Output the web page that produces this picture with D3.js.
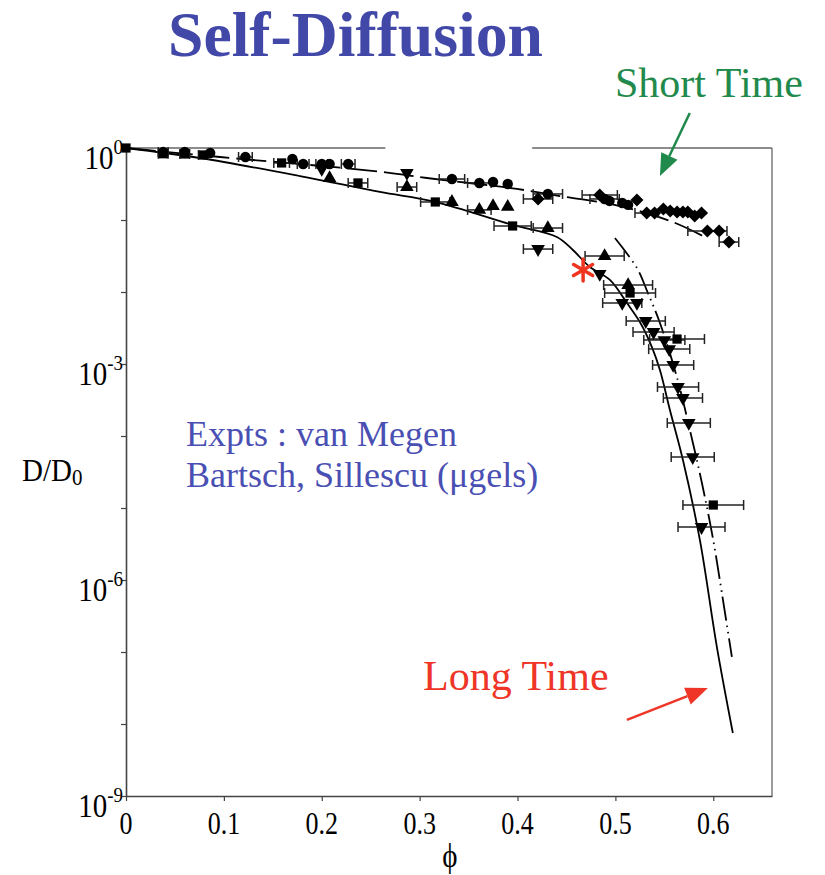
<!doctype html>
<html>
<head>
<meta charset="UTF-8">
<script src="https://d3js.org/d3.v7.min.js"></script>
<style>
  body { margin: 0; background: #fff; }
  text { font-family: "Liberation Serif", "Times New Roman", serif; }
</style>
</head>
<body>
<svg id="chart"></svg>
<script>
// ---- data (phi, D/D0, horizontal error in phi) ----
var squarePhi = [0, 0.038, 0.060, 0.079, 0.159, 0.237, 0.316, 0.395, 0.515, 0.563, 0.600];
var squareD   = [1, 0.832, 0.826, 0.80, 0.62, 0.327, 0.178, 0.0826, 9.68e-3, 2.22e-3, 1.10e-5];
var squareErr = [0, 0.005, 0.005, 0.005, 0.008, 0.010, 0.015, 0.019, 0.026, 0.028, 0.031];

var circlePhi = [0.038, 0.060, 0.086, 0.122, 0.170, 0.181, 0.200, 0.208, 0.227, 0.333, 0.361, 0.375, 0.390, 0.431, 0.489, 0.494, 0.507, 0.513];
var circleD   = [0.879, 0.879, 0.853, 0.750, 0.703, 0.60, 0.60, 0.60, 0.60, 0.371, 0.327, 0.337, 0.316, 0.230, 0.196, 0.184, 0.172, 0.162];
var circleErr = [0.005, 0, 0, 0.007, 0, 0.006, 0.006, 0, 0.007, 0.013, 0.012, 0, 0, 0.015, 0.015, 0, 0, 0];

var triUpPhi = [0.208, 0.287, 0.333, 0.361, 0.375, 0.390, 0.431, 0.489, 0.513];
var triUpD   = [0.383, 0.287, 0.178, 0.138, 0.156, 0.152, 0.0774, 0.0316, 0.0125];
var triUpErr = [0, 0.010, 0, 0.012, 0, 0, 0.015, 0.020, 0.025];

var triDownPhi = [0.200, 0.287, 0.421, 0.484, 0.507, 0.522, 0.531, 0.539, 0.550, 0.555, 0.559, 0.564, 0.569, 0.575, 0.579, 0.588];
var triDownD   = [0.511, 0.45, 0.0395, 0.0178, 7.03e-3, 7.03e-3, 3.95e-3, 2.78e-3, 2.15e-3, 1.61e-3, 9.68e-4, 4.8e-4, 3.37e-4, 1.52e-4, 5.1e-5, 5.44e-6];
var triDownErr = [0, 0, 0.015, 0, 0.020, 0, 0.020, 0.021, 0.021, 0.021, 0.021, 0.021, 0.020, 0.022, 0.022, 0.024];

var diamondPhi = [0.421, 0.484, 0.522, 0.532, 0.540, 0.549, 0.556, 0.563, 0.569, 0.574, 0.581, 0.588, 0.594, 0.606, 0.616];
var diamondD   = [0.196, 0.222, 0.19, 0.125, 0.125, 0.142, 0.133, 0.129, 0.129, 0.129, 0.114, 0.125, 0.0703, 0.0703, 0.0494];
var diamondErr = [0.015, 0.018, 0, 0.012, 0, 0, 0, 0, 0, 0, 0, 0, 0.020, 0, 0.010];

var simPhi = [0.467];   // red asterisk
var simD   = [0.0202];

// theory curves
var longPhi = [0, 0.0756, 0.1777, 0.2594, 0.3156, 0.3953, 0.4402, 0.4566, 0.474, 0.4944, 0.5118, 0.525, 0.5373, 0.5455, 0.5557, 0.569, 0.5863, 0.6037, 0.62];
var longD   = [1, 0.726, 0.408, 0.245, 0.179, 0.0853, 0.0581, 0.0383, 0.0222, 0.0147, 7.03e-3, 3.83e-3, 1.72e-3, 8.26e-4, 2.30e-4, 4.65e-5, 3.60e-6, 1.17e-7, 7.50e-9];

var shortPhi = [0, 0.096, 0.2594, 0.3075, 0.3994, 0.4433, 0.5046, 0.5587, 0.5935];
var shortD   = [1, 0.750, 0.469, 0.383, 0.270, 0.215, 0.156, 0.0938, 0.0562];

var longBPhi = [0.4995, 0.522, 0.5332, 0.5455, 0.5628, 0.5792, 0.5884, 0.5996, 0.6088, 0.619];
var longBD   = [0.0562, 0.0215, 9.68e-3, 3.71e-3, 6.59e-4, 8.0e-5, 2.22e-5, 3.83e-6, 6.59e-7, 8.53e-8];

var xTicks = [0, 0.1, 0.2, 0.3, 0.4, 0.5, 0.6];
var xTickLabels = ["0", "0.1", "0.2", "0.3", "0.4", "0.5", "0.6"];
var yDecades = [1, 1e-1, 1e-2, 1e-3, 1e-4, 1e-5, 1e-6, 1e-7, 1e-8, 1e-9];
var yLabelVals = [1, 1e-3, 1e-6, 1e-9];
var yLabelExp = ["0", "-3", "-6", "-9"];

function zip(p, d, e) {
    return p.map(function(v, i) { return {phi: v, D: d[i], err: e ? e[i] : 0}; });
}

var width = 825, height = 875;
var svg = d3.select("#chart").attr("width", width).attr("height", height);

var x = d3.scaleLinear().domain([0, 0.66]).range([126, 772]);
var y = d3.scaleLog().domain([1e-9, 1]).range([796, 148]);

// frame (top line is broken in the original)
var frame = svg.append("g").attr("stroke", "#666").attr("stroke-width", 1.3).attr("fill", "none");
frame.append("line").attr("x1", x(0)).attr("x2", x(0.265)).attr("y1", y(1)).attr("y2", y(1));
frame.append("line").attr("x1", x(0.415)).attr("x2", x(0.66)).attr("y1", y(1)).attr("y2", y(1));
frame.append("line").attr("x1", x(0.66)).attr("x2", x(0.66)).attr("y1", y(1)).attr("y2", y(1e-9));

// axes
var xAxis = svg.append("g").attr("transform", "translate(0," + y(1e-9) + ")")
    .call(d3.axisBottom(x).tickValues(xTicks).tickSize(5).tickSizeOuter(0).tickFormat(""));
xAxis.select(".domain").attr("stroke", "#444").attr("stroke-width", 1.6);
xAxis.selectAll(".tick line").attr("stroke", "#444").attr("stroke-width", 1.2);

// tick labels look slightly stretched vertically in the original
svg.append("g").selectAll("text").data(xTicks).enter().append("text")
    .attr("transform", function(d) { return "translate(" + x(d) + ",834) scale(1,1.22)"; })
    .attr("text-anchor", "middle").attr("font-size", 26)
    .text(function(d, i) { return xTickLabels[i]; });

var yAxis = svg.append("g").attr("transform", "translate(" + x(0) + ",0)")
    .call(d3.axisLeft(y).tickValues(yDecades).tickSize(5).tickSizeOuter(0).tickFormat(""));
yAxis.select(".domain").attr("stroke", "#444").attr("stroke-width", 1.6);
yAxis.selectAll(".tick line").attr("stroke", "#444").attr("stroke-width", 1.2);

yLabelVals.forEach(function(v, i) {
    var t = svg.append("text")
        .attr("transform", "translate(" + (x(0) - 3) + "," + (y(v) + 21) + ") scale(1,1.15)")
        .attr("text-anchor", "end").attr("font-size", 29).text("10");
    t.append("tspan").attr("dy", -13).attr("font-size", 19).text(yLabelExp[i]);
});

// axis titles
var yl = svg.append("text").attr("transform", "translate(22,481) scale(1,1.1)").attr("font-size", 29).text("D/D");
yl.append("tspan").attr("dy", 4).attr("font-size", 21).text("0");
svg.append("text").attr("transform", "translate(" + x(0.331) + ",867) scale(1,1.15)").attr("text-anchor", "middle")
    .attr("font-size", 29).text("\u03D5");

// theory curves
var line = d3.line().x(function(d) { return x(d.phi); }).y(function(d) { return y(d.D); })
    .curve(d3.curveCatmullRom.alpha(0.5));
svg.append("path").datum(zip(shortPhi, shortD)).attr("d", line)
    .attr("fill", "none").attr("stroke", "#000").attr("stroke-width", 1.8).attr("stroke-dasharray", "30,7");
svg.append("path").datum(zip(longBPhi, longBD)).attr("d", line)
    .attr("fill", "none").attr("stroke", "#000").attr("stroke-width", 1.8).attr("stroke-dasharray", "24,5,1.5,5,1.5,5");
svg.append("path").datum(zip(longPhi, longD)).attr("d", line)
    .attr("fill", "none").attr("stroke", "#000").attr("stroke-width", 1.8);

// data series with horizontal error bars
var series = [
    {pts: zip(squarePhi, squareD, squareErr), type: d3.symbolSquare, size: 85, rot: 0},
    {pts: zip(circlePhi, circleD, circleErr), type: d3.symbolCircle, size: 85, rot: 0},
    {pts: zip(triUpPhi, triUpD, triUpErr), type: d3.symbolTriangle, size: 80, rot: 0},
    {pts: zip(triDownPhi, triDownD, triDownErr), type: d3.symbolTriangle, size: 80, rot: 180},
    {pts: zip(diamondPhi, diamondD, diamondErr), type: d3.symbolSquare, size: 85, rot: 45}
];

var errG = svg.append("g").attr("stroke", "#222").attr("stroke-width", 1.5);
series.forEach(function(s) {
    var withErr = s.pts.filter(function(d) { return d.err > 0; });
    errG.selectAll(null).data(withErr).enter().append("line")
        .attr("x1", function(d) { return x(d.phi - d.err); })
        .attr("x2", function(d) { return x(d.phi + d.err); })
        .attr("y1", function(d) { return y(d.D); })
        .attr("y2", function(d) { return y(d.D); });
    [-1, 1].forEach(function(sgn) {
        errG.selectAll(null).data(withErr).enter().append("line")
            .attr("x1", function(d) { return x(d.phi + sgn * d.err); })
            .attr("x2", function(d) { return x(d.phi + sgn * d.err); })
            .attr("y1", function(d) { return y(d.D) - 5; })
            .attr("y2", function(d) { return y(d.D) + 5; });
    });
});

series.forEach(function(s) {
    svg.append("g").selectAll("path").data(s.pts).enter().append("path")
        .attr("d", d3.symbol().type(s.type).size(s.size))
        .attr("transform", function(d) {
            return "translate(" + x(d.phi) + "," + y(d.D) + ") rotate(" + s.rot + ")";
        })
        .attr("fill", "#000");
});

// simulation point: red asterisk
var sim = svg.append("g").selectAll("g").data(zip(simPhi, simD)).enter().append("g")
    .attr("transform", function(d) { return "translate(" + x(d.phi) + "," + y(d.D) + ")"; });
[90, 30, 150].forEach(function(a) {
    var r = 11, c = Math.cos(a * Math.PI / 180) * r, s = Math.sin(a * Math.PI / 180) * r;
    sim.append("line").attr("x1", -c).attr("y1", -s).attr("x2", c).attr("y2", s)
        .attr("stroke", "#f0341f").attr("stroke-width", 3.5).attr("stroke-linecap", "round");
});

// titles and annotations
svg.append("text").attr("x", 168).attr("y", 56).attr("font-size", 64).attr("font-weight", "bold")
    .attr("fill", "#4248a8").attr("textLength", 375).attr("lengthAdjust", "spacingAndGlyphs")
    .text("Self-Diffusion");
svg.append("text").attr("x", 615).attr("y", 97).attr("font-size", 42).attr("fill", "#1f8a4c").text("Short Time");
svg.append("text").attr("x", 423).attr("y", 690).attr("font-size", 42).attr("fill", "#ee3527").text("Long Time");
svg.append("text").attr("x", 186).attr("y", 446).attr("font-size", 36).attr("fill", "#4a4fb3").text("Expts : van Megen");
svg.append("text").attr("x", 186).attr("y", 487).attr("font-size", 36).attr("fill", "#4a4fb3").text("Bartsch, Sillescu (\u03BCgels)");

function arrow(x1, y1, x2, y2, color, headLen, headW) {
    var dx = x2 - x1, dy = y2 - y1, L = Math.sqrt(dx * dx + dy * dy);
    var ux = dx / L, uy = dy / L;
    var bx = x2 - ux * headLen, by = y2 - uy * headLen;
    svg.append("line").attr("x1", x1).attr("y1", y1).attr("x2", bx).attr("y2", by)
        .attr("stroke", color).attr("stroke-width", 2.5);
    svg.append("path").attr("fill", color)
        .attr("d", "M" + x2 + "," + y2 + "L" + (bx - uy * headW / 2) + "," + (by + ux * headW / 2) +
                   "L" + (bx + uy * headW / 2) + "," + (by - ux * headW / 2) + "Z");
}
// green arrow points to the short-time curve, red one to the long-time curve
arrow(x(0.576), 113, x(0.5455), y(0.41), "#1f8a4c", 22, 18);
arrow(x(0.5118), y(1.14e-8), x(0.5945), y(3.16e-8), "#ee3527", 22, 18);
</script>
</body>
</html>
